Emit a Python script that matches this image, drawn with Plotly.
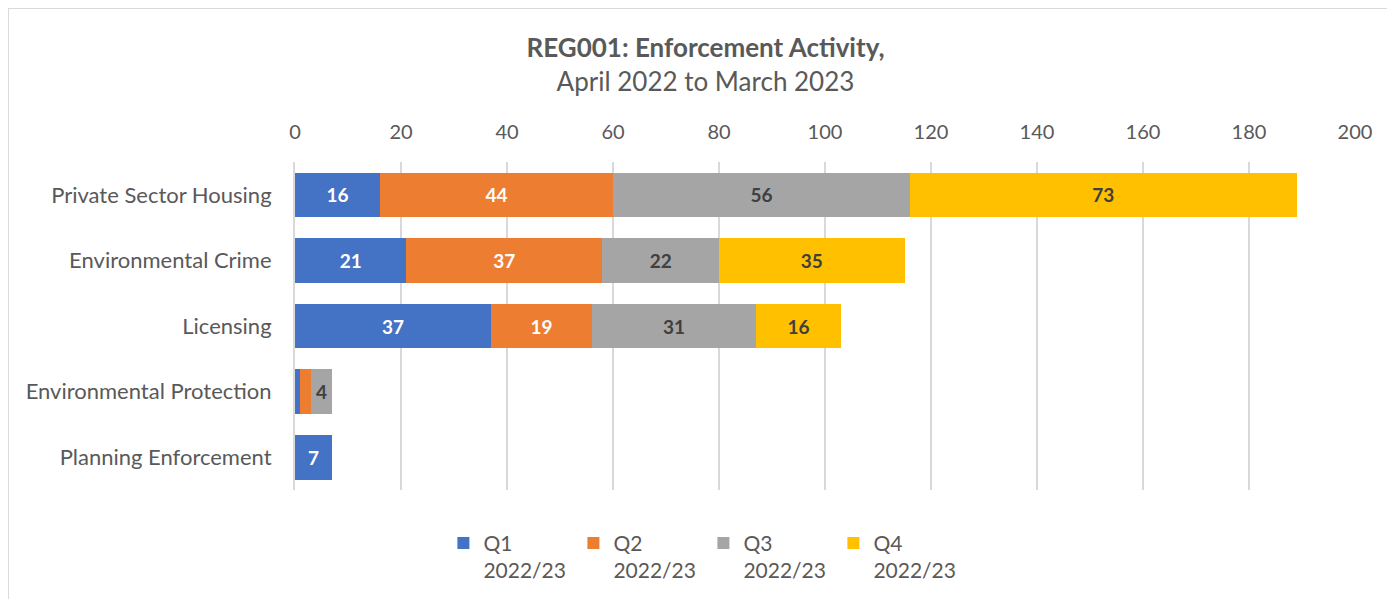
import plotly.graph_objects as go

categories = ["Private Sector Housing", "Environmental Crime", "Licensing",
              "Environmental Protection", "Planning Enforcement"]
quarters = ["Q1<br>2022/23", "Q2<br>2022/23", "Q3<br>2022/23", "Q4<br>2022/23"]
q1 = [16, 21, 37, 1, 7]
q2 = [44, 37, 19, 2, 0]
q3 = [56, 22, 31, 4, 0]
q4 = [73, 35, 16, 0, 0]
colors = ["#4472C4", "#ED7D31", "#A5A5A5", "#FFC000"]
label_colors = ["white", "white", "#404040", "#404040"]

FONT = "Lato, Carlito, 'Open Sans', sans-serif"

fig = go.Figure()
for name, vals, col, lcol in zip(quarters, [q1, q2, q3, q4], colors, label_colors):
    fig.add_trace(go.Bar(
        y=categories, x=vals, name=name, orientation="h",
        marker=dict(color=col, line=dict(width=0)),
        text=[str(v) if v >= 3 else "" for v in vals],
        textposition="inside", insidetextanchor="middle",
        textfont=dict(color=lcol, size=19, family=FONT, weight="bold"),
        constraintext="none",
    ))

fig.update_layout(
    barmode="stack",
    bargap=0.32,
    width=1395, height=599,
    margin=dict(l=287, r=48, t=154, b=117),
    paper_bgcolor="white", plot_bgcolor="white",
    font=dict(family=FONT, color="#595959", size=21),
    title=dict(
        text="<b>REG001: Enforcement Activity,</b><br>April 2022 to March 2023",
        x=0.5, xanchor="center", y=0.918, yanchor="top",
        font=dict(size=26, color="#595959"),
    ),
    xaxis=dict(
        side="top", range=[0, 200], dtick=20,
        showgrid=True, gridcolor="#d9d9d9", gridwidth=2,
        zeroline=False, showline=False,
        ticks="outside", ticklen=14, tickcolor="rgba(0,0,0,0)",
        tickfont=dict(size=20, color="#595959"),
    ),
    yaxis=dict(
        autorange="reversed",
        showline=True, linecolor="#d9d9d9", linewidth=2,
        ticks="outside", ticklen=17, tickcolor="rgba(0,0,0,0)",
        tickfont=dict(size=22, color="#595959"),
    ),
    legend=dict(
        orientation="h", x=0.14, xanchor="left", y=-0.10, yanchor="top",
        entrywidth=85, entrywidthmode="pixels", valign="top",
        font=dict(size=21, color="#595959"),
        traceorder="normal",
    ),
    shapes=[dict(
        type="rect", xref="paper", yref="paper",
        x0=-0.2708, x1=1.2, y0=-0.5, y1=1.4695,
        line=dict(color="#d9d9d9", width=2), layer="below",
    )],
)

fig.write_html("out.html")
